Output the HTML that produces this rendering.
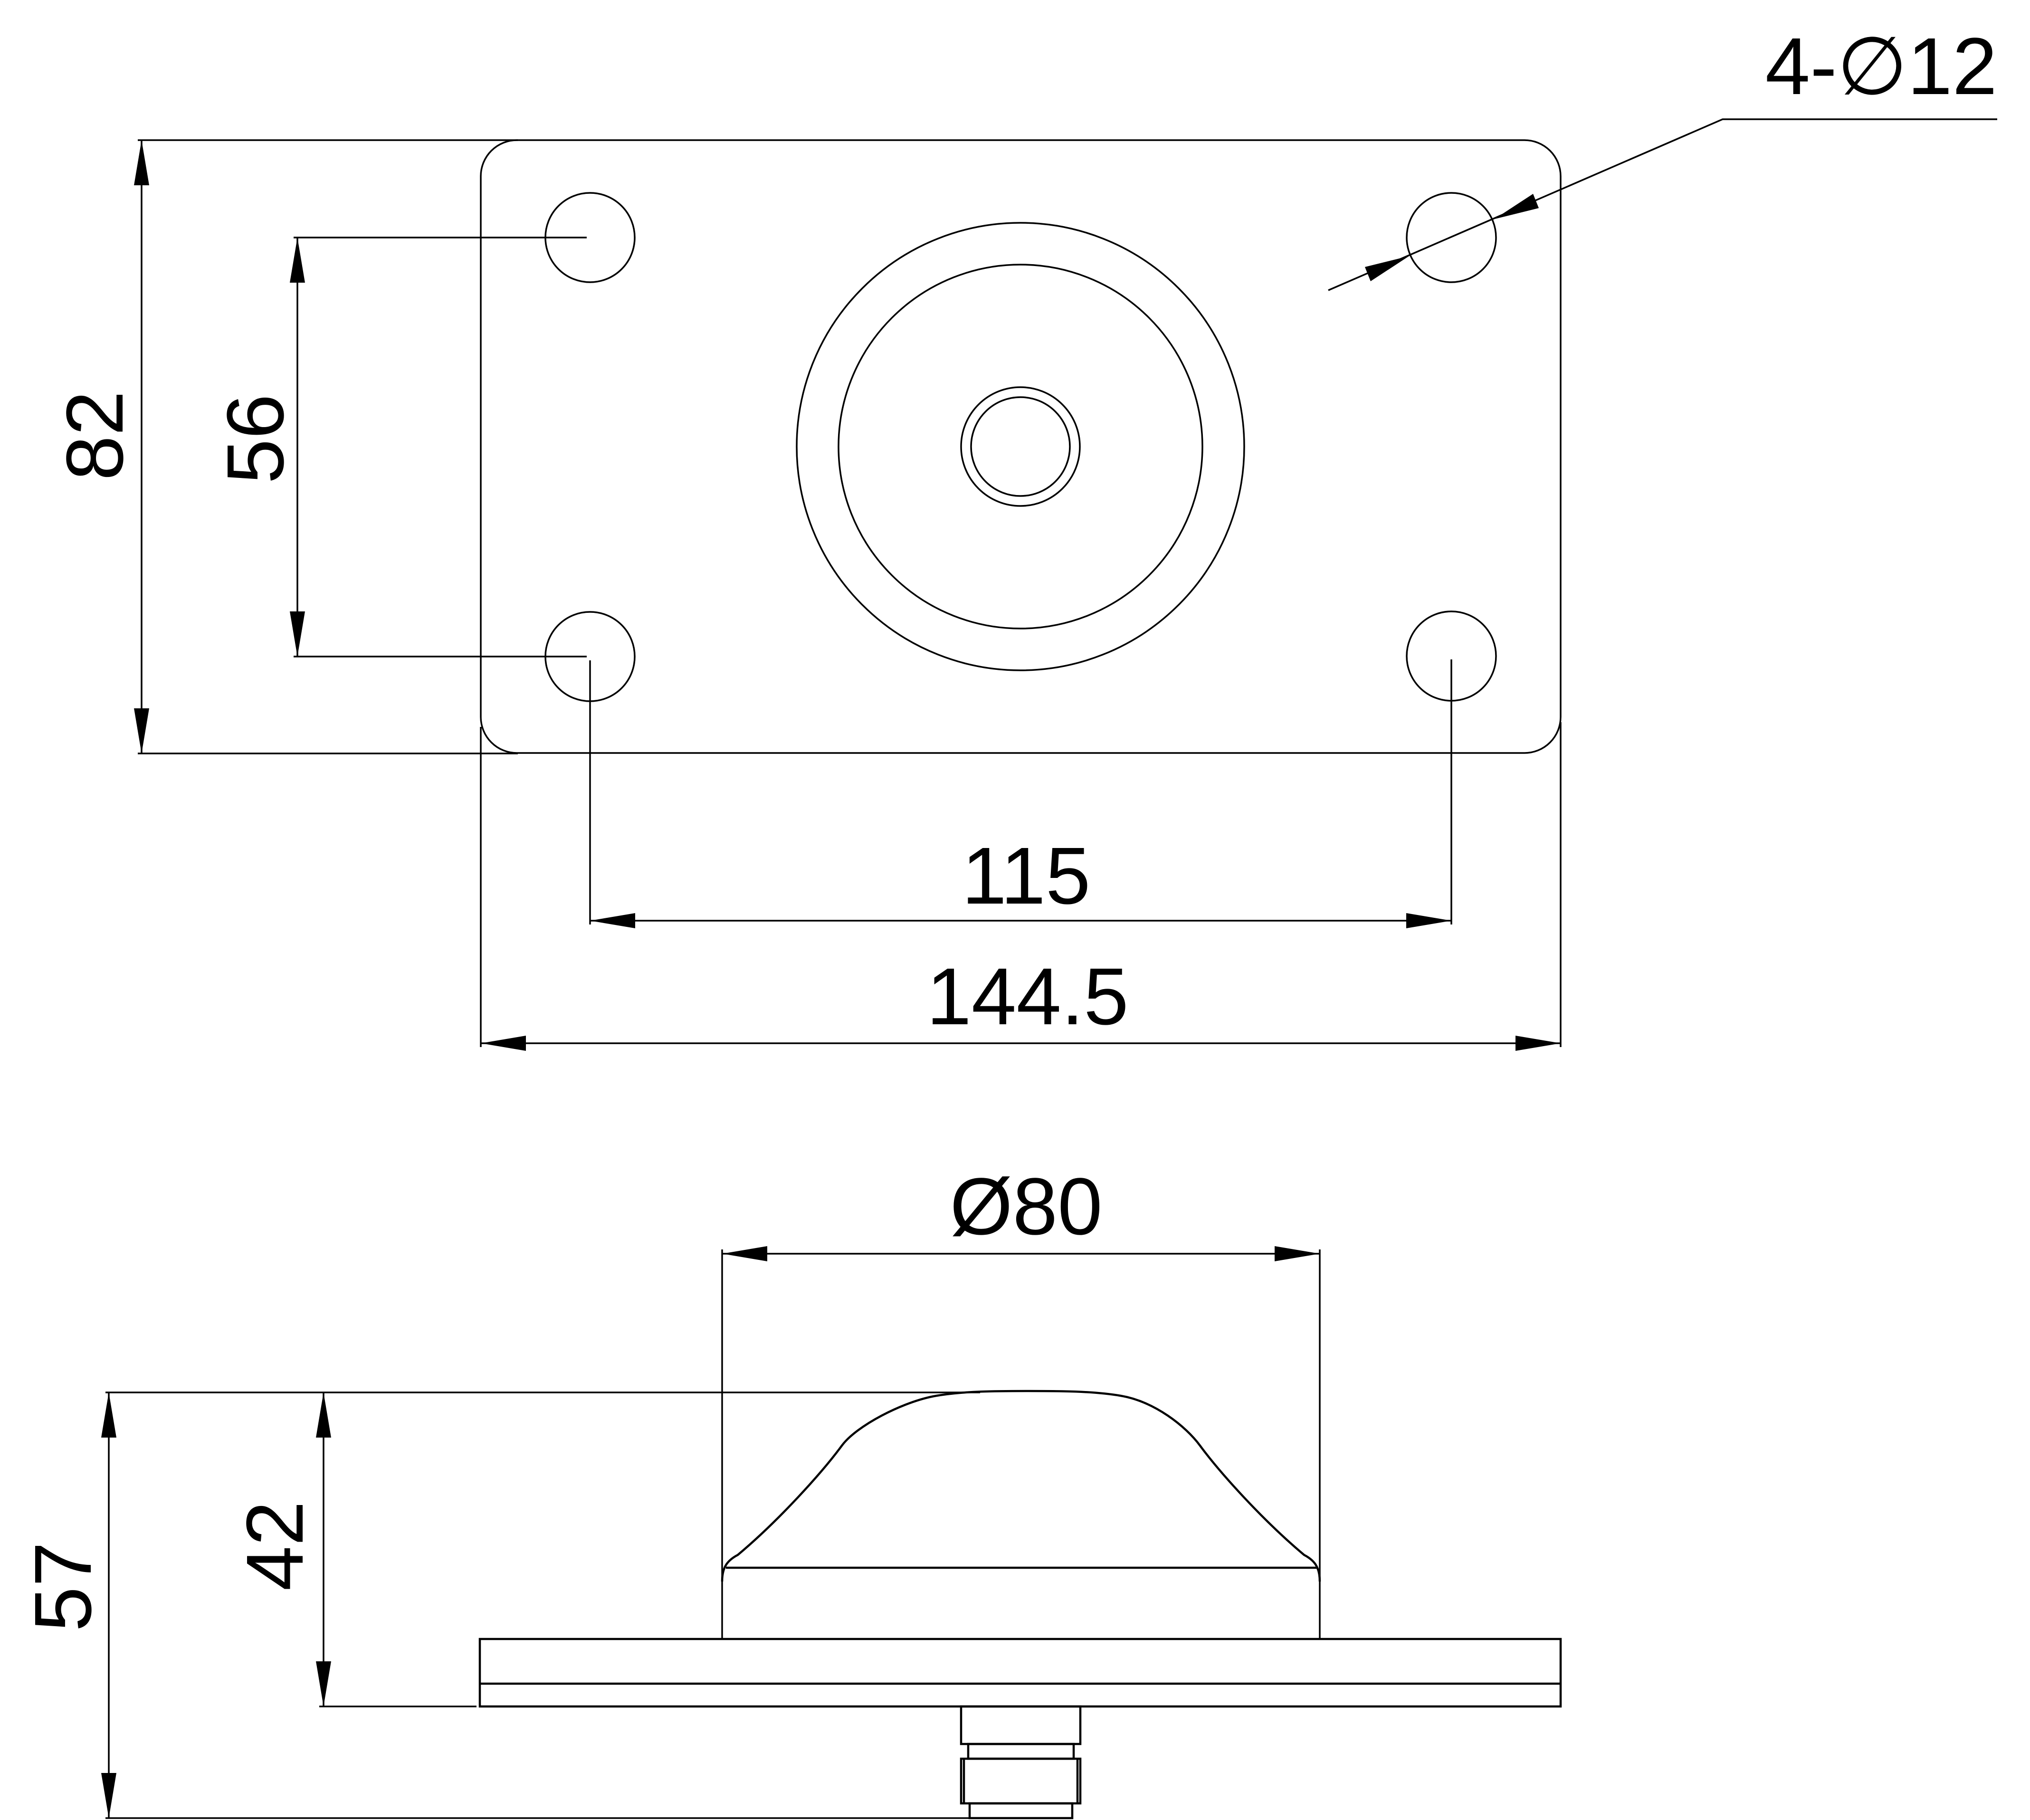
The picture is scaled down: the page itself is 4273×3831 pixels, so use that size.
<!DOCTYPE html>
<html><head><meta charset="utf-8"><style>
html,body{margin:0;padding:0;background:#fff;}
svg{display:block;}
text{font-family:"Liberation Sans","DejaVu Sans",sans-serif;fill:#000;}
</style></head><body>
<svg width="4273" height="3831" viewBox="0 0 4273 3831" xmlns="http://www.w3.org/2000/svg">
<g fill="none" stroke="#000" stroke-width="3.5">
<rect x="1012" y="295" width="2273" height="1290" rx="76" ry="76"/>
<circle cx="1242" cy="500" r="94"/>
<circle cx="1242" cy="1382" r="94"/>
<circle cx="3055" cy="500" r="94"/>
<circle cx="3055" cy="1381" r="94"/>
<circle cx="2148" cy="940" r="471"/>
<circle cx="2148" cy="940" r="383"/>
<circle cx="2148" cy="940" r="125"/>
<circle cx="2148" cy="940" r="104"/>
<line x1="290" y1="295" x2="1090" y2="295"/>
<line x1="290" y1="1586" x2="1090" y2="1586"/>
<line x1="298" y1="295" x2="298" y2="1586"/>
<line x1="618" y1="500" x2="1235" y2="500"/>
<line x1="618" y1="1382" x2="1235" y2="1382"/>
<line x1="626" y1="500" x2="626" y2="1382"/>
<line x1="1242" y1="1390" x2="1242" y2="1946"/>
<line x1="3055" y1="1388" x2="3055" y2="1946"/>
<line x1="1242" y1="1938" x2="3055" y2="1938"/>
<line x1="1012" y1="1530" x2="1012" y2="2204"/>
<line x1="3285" y1="1520" x2="3285" y2="2204"/>
<line x1="1012" y1="2196" x2="3285" y2="2196"/>
<polyline points="2796,611 3626,251 4204,251"/>
<line x1="1520" y1="2630" x2="1520" y2="3450"/>
<line x1="2778" y1="2630" x2="2778" y2="3450"/>
<line x1="1520" y1="2639" x2="2778" y2="2639"/>
<line x1="222" y1="2931" x2="2063" y2="2931"/>
<line x1="222" y1="3827" x2="2041" y2="3827"/>
<line x1="672" y1="3592" x2="1003" y2="3592"/>
<line x1="229" y1="2931" x2="229" y2="3827"/>
<line x1="681" y1="2931" x2="681" y2="3592"/>
</g>
<g fill="none" stroke="#000" stroke-width="4.5">
<path d="M1520,3329 C1520,3300 1530,3285 1553,3273 C1640,3200 1730,3100 1772,3043 C1802,3002 1900,2950 1971,2938 C2030,2928 2100,2928 2165,2928 C2230,2928 2300,2928 2359,2938 C2430,2950 2496,3002 2526,3043 C2568,3100 2658,3200 2745,3273 C2768,3285 2778,3300 2778,3329"/>
<line x1="1528" y1="3300" x2="2772" y2="3300"/>
<rect x="1010" y="3450" width="2275" height="142"/>
<line x1="1010" y1="3544" x2="3285" y2="3544"/>
<rect x="2023" y="3592" width="251" height="79"/>
<rect x="2038" y="3671" width="222" height="31"/>
<rect x="2023" y="3702" width="251" height="94"/>
<line x1="2029" y1="3702" x2="2029" y2="3796"/>
<line x1="2268" y1="3702" x2="2268" y2="3796"/>
<rect x="2041" y="3796" width="216" height="31"/>
</g>
<g fill="#000" stroke="none">
<polygon points="298,295 282,390 314,390"/>
<polygon points="298,1586 282,1491 314,1491"/>
<polygon points="626,500 610,595 642,595"/>
<polygon points="626,1382 610,1287 642,1287"/>
<polygon points="1242,1938 1337,1922 1337,1954"/>
<polygon points="3055,1938 2960,1922 2960,1954"/>
<polygon points="1012,2196 1107,2180 1107,2212"/>
<polygon points="3285,2196 3190,2180 3190,2212"/>
<polygon points="2966,539 2885,592 2873,562"/>
<polygon points="3146,461 3239,438 3227,408"/>
<polygon points="1520,2639 1615,2623 1615,2655"/>
<polygon points="2778,2639 2683,2623 2683,2655"/>
<polygon points="229,2931 213,3026 245,3026"/>
<polygon points="229,3827 213,3732 245,3732"/>
<polygon points="681,2931 665,3026 697,3026"/>
<polygon points="681,3592 665,3497 697,3497"/>
</g>
<g font-size="170">
<text transform="translate(197,917) rotate(-90)" text-anchor="middle" y="61">82</text>
<text transform="translate(535,924) rotate(-90)" text-anchor="middle" y="61">56</text>
<text transform="translate(576,3254) rotate(-90)" text-anchor="middle" y="61">42</text>
<text transform="translate(130,3340) rotate(-90)" text-anchor="middle" y="61">57</text>
<text x="2160" y="1902" text-anchor="middle">115</text>
<text x="2163" y="2156" text-anchor="middle">144.5</text>
<text x="2160" y="2598" text-anchor="middle">Ø80</text>
<text x="4204" y="198" text-anchor="end">4-∅12</text>
</g>
</svg>
</body></html>
